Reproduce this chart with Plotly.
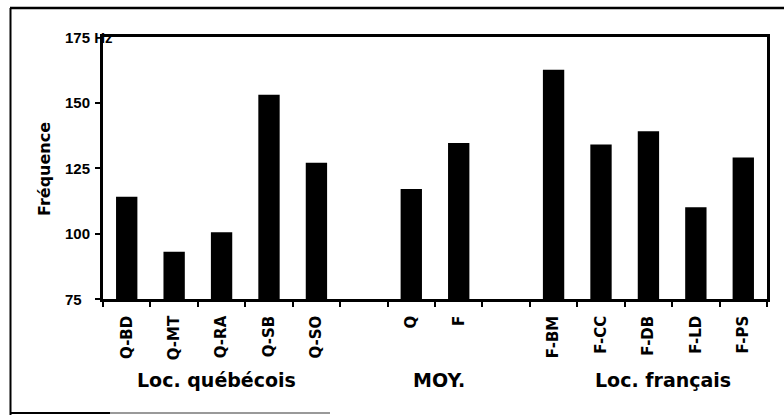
import plotly.graph_objects as go

categories = ["Q-BD", "Q-MT", "Q-RA", "Q-SB", "Q-SO", " ", "Q", "F", "  ",
              "F-BM", "F-CC", "F-DB", "F-LD", "F-PS"]
values = [114, 93, 100.5, 153, 127, None, 117, 134.5, None,
          162.5, 134, 139, 110, 129]
y_ticks = [75, 100, 125, 150, 175]
y_tick_text = ["75", "100", "125", "150", "175 Hz"]
groups = ["Loc. québécois", "MOY.", "Loc. français"]
group_pos = [1.9, 6.58, 11.3]

W, H = 784, 415
L, R, T, B = 103, 17, 37, 116
pw, ph = W - L - R, H - T - B

def px_x(px):
    return (px - L) / pw

def px_y(py):
    return (H - B - py) / ph

FONT = "Liberation Sans"

fig = go.Figure(go.Bar(
    x=categories, y=values, marker=dict(color="black", line=dict(width=0)),
    width=0.45,
))

ann = []
for v, t in zip(y_ticks, y_tick_text):
    ann.append(dict(x=0, xref="paper", xshift=-40, xanchor="left", y=v, yref="y",
                    yanchor="middle", text="<b>%s</b>" % t, showarrow=False,
                    font=dict(family=FONT, size=15, color="black")))
for g, p in zip(groups, group_pos):
    ann.append(dict(x=p, xref="x", y=px_y(380), yref="paper", xanchor="center",
                    yanchor="middle", text="<b>%s</b>" % g, showarrow=False,
                    font=dict(family="DejaVu Sans", size=19, color="black")))
ann.append(dict(x=0, xref="paper", xshift=-59, xanchor="center", y=px_y(169), yref="paper",
                yanchor="middle", text="<b>Fréquence</b>", textangle=-90, showarrow=False,
                font=dict(family="DejaVu Sans", size=16, color="black")))

shapes = [
    dict(type="line", xref="paper", yref="paper", x0=px_x(10), x1=px_x(784),
         y0=px_y(8), y1=px_y(8), line=dict(color="black", width=2.5)),
    dict(type="line", xref="paper", yref="paper", x0=px_x(10.5), x1=px_x(10.5),
         y0=px_y(8), y1=px_y(415), line=dict(color="black", width=2)),
    dict(type="line", xref="paper", yref="paper", x0=px_x(10), x1=px_x(110),
         y0=px_y(413), y1=px_y(413), line=dict(color="black", width=2)),
    dict(type="line", xref="paper", yref="paper", x0=px_x(110), x1=px_x(330),
         y0=px_y(413), y1=px_y(413), line=dict(color="#777777", width=1.5)),
]

fig.update_layout(
    width=W, height=H, margin=dict(l=L, r=R, t=T, b=B, pad=0),
    paper_bgcolor="white", plot_bgcolor="white", showlegend=False,
    annotations=ann, shapes=shapes, bargap=0.55,
    xaxis=dict(type="category", categoryorder="array", categoryarray=categories,
               tickson="boundaries", ticks="outside", ticklen=5, tickwidth=1.5,
               tickcolor="black", tickangle=-90, ticklabelstandoff=8,
               tickfont=dict(family="DejaVu Sans", size=15, color="black"),
               tickprefix="<b>", ticksuffix="</b>",
               showline=True, linecolor="black", linewidth=2.5, mirror=True,
               showgrid=False, zeroline=False, fixedrange=True),
    yaxis=dict(range=[75, 175], tickvals=y_ticks[:-1], showticklabels=False,
               ticks="outside", ticklen=5, tickwidth=1.5, tickcolor="black",
               showline=True, linecolor="black", linewidth=2.5, mirror=True,
               showgrid=False, zeroline=False, fixedrange=True),
)

fig.write_html("out.html", config={"displayModeBar": False},
               post_script="document.body.style.margin='0px';document.body.style.overflow='hidden';")
